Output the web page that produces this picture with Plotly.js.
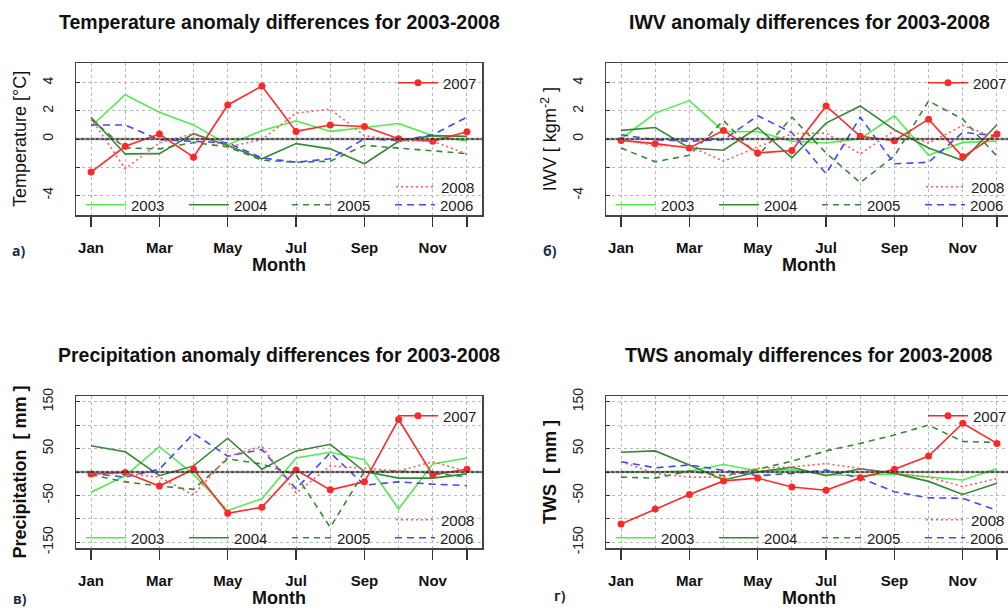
<!DOCTYPE html>
<html><head><meta charset="utf-8">
<script src="https://cdn.plot.ly/plotly-3.0.1.min.js"></script>
<style>html,body{margin:0;padding:0;overflow:hidden;background:#fff}#chart{width:1024px;height:610px}</style>
</head><body><div id="chart"></div><script>
// ---- data ----
const months = [1,2,3,4,5,6,7,8,9,10,11,12];
const monthTickVals = [1,3,5,7,9,11,12];
const monthTickText = ['Jan','Mar','May','Jul','Sep','Nov',' '];
const years = ['2003','2004','2005','2006','2007','2008'];

// Temperature anomaly differences (°C)
const temp2003 = [0.89, 3.15, 1.9, 1.0, -0.4, 0.59, 1.29, 0.54, 0.82, 1.1, 0.24, -0.14];
const temp2004 = [1.55, -1.06, -1.04, 0.38, -0.47, -1.41, -0.33, -0.7, -1.76, -0.16, 0.24, 0.19];
const temp2005 = [1.4, -0.64, -0.7, -0.25, -0.56, -1.5, -1.65, -1.58, -0.45, -0.64, -0.8, -1.04];
const temp2006 = [1.0, 1.0, -0.05, -0.16, -0.28, -1.34, -1.65, -1.41, 0.02, -0.12, 0.3, 1.55];
const temp2007 = [-2.35, -0.52, 0.35, -1.29, 2.42, 3.76, 0.54, 0.99, 0.89, 0.02, -0.16, 0.52];
const temp2008 = [1.48, -2.12, -0.28, 0.38, -0.56, -0.05, 1.84, 2.12, 0.24, -0.12, -0.16, -1.06];

// IWV anomaly differences (kg m^-2)
const iwv2003 = [0.0, 1.84, 2.73, 0.54, 0.52, -0.16, -0.28, 0.02, 1.65, -1.15, -0.24, -0.16];
const iwv2004 = [0.61, 0.82, -0.64, -0.8, 0.82, -1.34, 1.13, 2.35, 0.66, -0.64, -1.53, 1.01];
const iwv2005 = [-0.64, -1.62, -1.15, 1.32, -1.22, 1.55, -1.0, -3.1, -1.2, 2.7, 1.41, -1.22];
const iwv2006 = [0.3, -0.05, -0.16, -0.05, 1.65, 0.45, -2.47, 1.55, -1.76, -1.65, 0.47, 0.24];
const iwv2007 = [-0.1, -0.33, -0.64, 0.61, -0.99, -0.82, 2.35, 0.19, -0.12, 1.41, -1.27, 0.35];
const iwv2008 = [-0.05, -0.47, -0.52, -1.58, -0.56, 0.38, 0.42, -1.06, 0.6, -0.3, 0.96, 0.05];

// Precipitation anomaly differences (mm)
const prec2003 = [-43, -8, 54, -5, -82, -57, 30, 42, 26, -79, 17, 30];
const prec2004 = [56, 43, -8, 13, 72, 6, 45, 59, 1, -13, -13, -4];
const prec2005 = [-6, -21, -30, -37, 28, 17, -6, -118, 1, 2, -2, -11];
const prec2006 = [-3, -11, 6, 82, 34, 48, -36, 41, -28, -21, -26, -29];
const prec2007 = [-4, -1, -30, 6, -88, -75, 4, -38, -21, 112, -6, 6];
const prec2008 = [-4, -3, -11, -49, 33, 55, -45, 13, 8, 2, 22, 1];

// TWS anomaly differences (mm)
const tws2003 = [0, 0, 2, 16, 2, 5, -6, -8, -4, -11, -17, 7];
const tws2004 = [42, 45, 15, -17, 0, 10, -8, 7, -3, -20, -48, -24];
const tws2005 = [-11, -13, 2, -8, 6, 23, 45, 61, 79, 100, 65, 63];
const tws2006 = [22, 9, 15, 4, -8, -3, 4, -13, -42, -55, -56, -82];
const tws2007 = [-111, -79, -48, -19, -13, -32, -39, -12, 6, 34, 104, 61];
const tws2008 = [22, -3, -11, -11, 8, 11, 18, 8, -3, -11, -31, -14];

const smallTickVals = [-4,-2,0,2,4];
const smallTickText = ['-4',' ','0','2','4'];
const bigTickVals = [-150,-100,-50,0,50,100,150];
const bigTickText = ['-150',' ','-50',' ','50',' ','150'];

// ---- styling ----
const FONT = '"Liberation Sans", Arial, Helvetica, sans-serif';
const W = 1024, H = 610;
const fx = p => p / W;
const fy = p => 1 - p / H;

const styles = {
  '2003': {color:'rgb(80,235,80)', dash:'solid', width:1.6},
  '2004': {color:'rgb(55,135,55)', dash:'solid', width:1.6},
  '2005': {color:'rgb(55,135,55)', dash:'6px,5px', width:1.6},
  '2006': {color:'rgb(70,70,255)', dash:'7px,5px', width:1.6},
  '2007': {color:'rgb(255,40,40)', dash:'solid', width:1.6},
  '2008': {color:'rgb(255,90,90)', dash:'2px,3px', width:1.6}
};

const panels = [
  {xa:'x', ya:'y', left:76, top:63, series:[temp2003,temp2004,temp2005,temp2006,temp2007,temp2008],
   title:'Temperature anomaly differences for 2003-2008', ytitle:'Temperature [°C]', ybold:false,
   range:[-5.4,5.4], tv:smallTickVals, tt:smallTickText, label:'a)', lab:[18,250]},
  {xa:'x2', ya:'y2', left:606, top:63, series:[iwv2003,iwv2004,iwv2005,iwv2006,iwv2007,iwv2008],
   title:'IWV anomaly differences for 2003-2008', ytitle:'IWV [ kgm<sup>-2</sup> ]', ybold:false,
   range:[-5.4,5.4], tv:smallTickVals, tt:smallTickText, label:'б)', lab:[550,250]},
  {xa:'x3', ya:'y3', left:76, top:396, series:[prec2003,prec2004,prec2005,prec2006,prec2007,prec2008],
   title:'Precipitation anomaly differences for 2003-2008', ytitle:'Precipitation  [ mm ]', ybold:true,
   range:[-162,162], tv:bigTickVals, tt:bigTickText, label:'в)', lab:[20,598]},
  {xa:'x4', ya:'y4', left:606, top:396, series:[tws2003,tws2004,tws2005,tws2006,tws2007,tws2008],
   title:'TWS anomaly differences for 2003-2008', ytitle:'TWS  [ mm ]', ybold:true,
   range:[-162,162], tv:bigTickVals, tt:bigTickText, label:'г)', lab:[560,595]}
];
const BW = 406, BH = 152;

const traces = [];
const layout = {
  width: W, height: H, margin:{l:0,r:0,t:0,b:0},
  paper_bgcolor:'#fff', plot_bgcolor:'#fff', showlegend:true,
  font:{family:FONT, color:'#222'},
  annotations:[], shapes:[]
};

panels.forEach((p, i) => {
  const n = i + 1;
  const sfx = n === 1 ? '' : String(n);
  const legRow = 'legend' + (n === 1 ? '' : String(3*i+1));
  const leg07 = 'legend' + (3*i+2);
  const leg08 = 'legend' + (3*i+3);
  years.forEach((yr, k) => {
    const s = styles[yr];
    const tr = {
      type:'scatter', x:months, y:p.series[k], name:yr, xaxis:p.xa, yaxis:p.ya,
      mode: yr === '2007' ? 'lines+markers' : 'lines',
      line:{color:s.color, dash:s.dash, width:s.width},
      legend: yr === '2007' ? leg07 : (yr === '2008' ? leg08 : legRow)
    };
    if (yr === '2007') tr.marker = {size:7, color:s.color};
    traces.push(tr);
  });
  const dx = [fx(p.left), fx(p.left + BW)];
  const dy = [fy(p.top + BH), fy(p.top)];
  layout['xaxis' + sfx] = {
    domain:dx, anchor:p.ya, range:[0.56,12.44], tickmode:'array',
    tickvals:monthTickVals, ticktext:monthTickText,
    ticks:'outside', ticklen:10, tickwidth:1.2, tickcolor:'#333', ticklabelstandoff:8,
    tickfont:{family:FONT, size:15, color:'#111', weight:'bold'},
    showgrid:true, gridcolor:'#b8b8b8', griddash:'dot', gridwidth:1,
    minor:{tickmode:'array', tickvals:[2,4,6,8,10], showgrid:true, gridcolor:'#b8b8b8', griddash:'dot', gridwidth:1, ticks:''},
    showline:true, mirror:true, linecolor:'#444', linewidth:1.5, zeroline:false,
    title:{text:'Month', font:{family:FONT, size:18, color:'#111', weight:'bold'}, standoff:2}
  };
  layout['yaxis' + sfx] = {
    domain:dy, anchor:p.xa, range:p.range, tickmode:'array', tickvals:p.tv, ticktext:p.tt,
    tickangle:-90, ticks:'inside', ticklen:4, tickcolor:'#333', ticklabelstandoff:16,
    tickfont:{family:FONT, size:14, color:'#222'},
    showgrid:true, gridcolor:'#b8b8b8', griddash:'dot', gridwidth:1,
    showline:true, mirror:true, linecolor:'#444', linewidth:1.5, zeroline:false,
    title:{text:p.ytitle, font:{family:FONT, size:18, color:'#111', weight: p.ybold ? 'bold' : 'normal'}, standoff:8}
  };
  // zero reference line
  layout.shapes.push({type:'line', xref:p.xa + ' domain', x0:0, x1:1, yref:p.ya, y0:0, y1:0,
    line:{color:'rgba(90,90,90,0.6)', width:2.5}, layer:'above'});
  layout.shapes.push({type:'line', xref:p.xa + ' domain', x0:0, x1:1, yref:p.ya, y0:0, y1:0,
    line:{color:'#111', width:1, dash:'3px,2px'}, layer:'above'});
  // title
  layout.annotations.push({xref:'paper', yref:'paper', x:fx(p.left + BW/2), y:fy(p.top - 41),
    xanchor:'center', yanchor:'middle', showarrow:false, text:'<b>' + p.title + '</b>',
    font:{family:FONT, size:19.5, color:'#111'}});
  // panel letter
  layout.annotations.push({xref:'paper', yref:'paper', x:fx(p.lab[0]), y:fy(p.lab[1]),
    xanchor:'center', yanchor:'middle', showarrow:false, text:'<b>' + p.label + '</b>',
    font:{family:'"Open Sans", "Liberation Sans", sans-serif', size:14, color:'#1c2a4a'}});
  const legCommon = {bgcolor:'rgba(0,0,0,0)', borderwidth:0, font:{family:FONT, size:15, color:'#222'},
    xanchor:'left', yanchor:'middle', itemclick:false, itemdoubleclick:false, tracegroupgap:0, itemwidth:40};
  layout[legRow] = Object.assign({}, legCommon, {orientation:'h', entrywidth:48, entrywidthmode:'pixels',
    x:fx(p.left + 10 - 5), y:fy(p.top + 142)});
  layout[leg07] = Object.assign({}, legCommon, {x:fx(p.left + 322 - 5), y:fy(p.top + 20)});
  layout[leg08] = Object.assign({}, legCommon, {x:fx(p.left + 320 - 5), y:fy(p.top + 124)});
});

Plotly.newPlot('chart', traces, layout, {staticPlot:true, displayModeBar:false});
</script></body></html>
